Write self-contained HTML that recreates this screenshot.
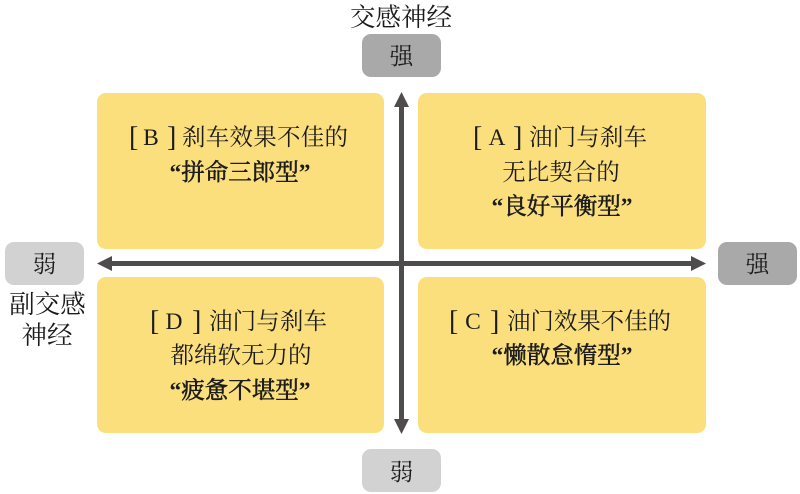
<!DOCTYPE html>
<html lang="zh"><head><meta charset="utf-8">
<style>
html,body{margin:0;padding:0;background:#fff;width:800px;height:494px;overflow:hidden}
svg{display:block}
text{font-family:"Liberation Serif","Noto Serif CJK SC",serif;fill:#1c1c1c;font-size:23.5px}
.s{stroke:#1c1c1c;stroke-width:.55px}
.q{font-weight:700}
.h{font-size:25.500px}
.k{font-size:28px}
</style></head><body>
<svg width="800" height="494" viewBox="0 0 800 494" xmlns="http://www.w3.org/2000/svg">
<rect x="97" y="93" width="287" height="156" rx="9" fill="#fbdf7d"/>
<rect x="418" y="93" width="288" height="156" rx="9" fill="#fbdf7d"/>
<rect x="97" y="277" width="287" height="156" rx="9" fill="#fbdf7d"/>
<rect x="418" y="277" width="288" height="156" rx="9" fill="#fbdf7d"/>

<rect x="362" y="34" width="79" height="43" rx="9" fill="#a9a9a9"/>
<rect x="362" y="449" width="79" height="43" rx="9" fill="#d2d2d2"/>
<rect x="5" y="242" width="79" height="43" rx="9" fill="#d2d2d2"/>
<rect x="718" y="242" width="79" height="43" rx="9" fill="#a9a9a9"/>

<g fill="#4e4c4d">
<rect x="399" y="100" width="5" height="326"/>
<rect x="104" y="261" width="596" height="5"/>
<polygon points="401.500,92 394,107 409,107"/>
<polygon points="401.500,434 394,419 409,419"/>
<polygon points="97,263.500 112,256 112,271"/>
<polygon points="706,263.500 691,256 691,271"/>
</g>

<text class="h" x="401" y="26" text-anchor="middle">交感神经</text>
<text x="401.500" y="64" text-anchor="middle">强</text>
<text x="401.500" y="480" text-anchor="middle">弱</text>
<text x="44.500" y="272" text-anchor="middle">弱</text>
<text x="757.500" y="272" text-anchor="middle">强</text>
<text class="h" x="47.500" y="313" text-anchor="middle">副交感</text>
<text class="h" x="47" y="344" text-anchor="middle">神经</text>

<text class="k" x="129" y="146">[</text><text x="151" y="145" text-anchor="middle">B</text><text class="k" x="167" y="146">]</text>
<text x="182" y="145" textLength="166">刹车效果不佳的</text>
<text x="240" y="180" text-anchor="middle"><tspan class="q">“</tspan><tspan class="s">拼命三郎型</tspan><tspan class="q">”</tspan></text>

<text class="k" x="473" y="146">[</text><text x="497" y="145" text-anchor="middle">A</text><text class="k" x="513" y="146">]</text>
<text x="529" y="145" textLength="118">油门与刹车</text>
<text x="561" y="180" text-anchor="middle">无比契合的</text>
<text x="562" y="214" text-anchor="middle"><tspan class="q">“</tspan><tspan class="s">良好平衡型</tspan><tspan class="q">”</tspan></text>

<text class="k" x="150" y="330">[</text><text x="174" y="329" text-anchor="middle">D</text><text class="k" x="192" y="330">]</text>
<text x="209" y="329" textLength="118">油门与刹车</text>
<text x="241" y="363" text-anchor="middle">都绵软无力的</text>
<text x="240" y="398" text-anchor="middle"><tspan class="q">“</tspan><tspan class="s">疲惫不堪型</tspan><tspan class="q">”</tspan></text>

<text class="k" x="449" y="330">[</text><text x="473" y="329" text-anchor="middle">C</text><text class="k" x="490" y="330">]</text>
<text x="507" y="329" textLength="164">油门效果不佳的</text>
<text x="562" y="363" text-anchor="middle"><tspan class="q">“</tspan><tspan class="s">懒散怠惰型</tspan><tspan class="q">”</tspan></text>
</svg>
</body></html>
